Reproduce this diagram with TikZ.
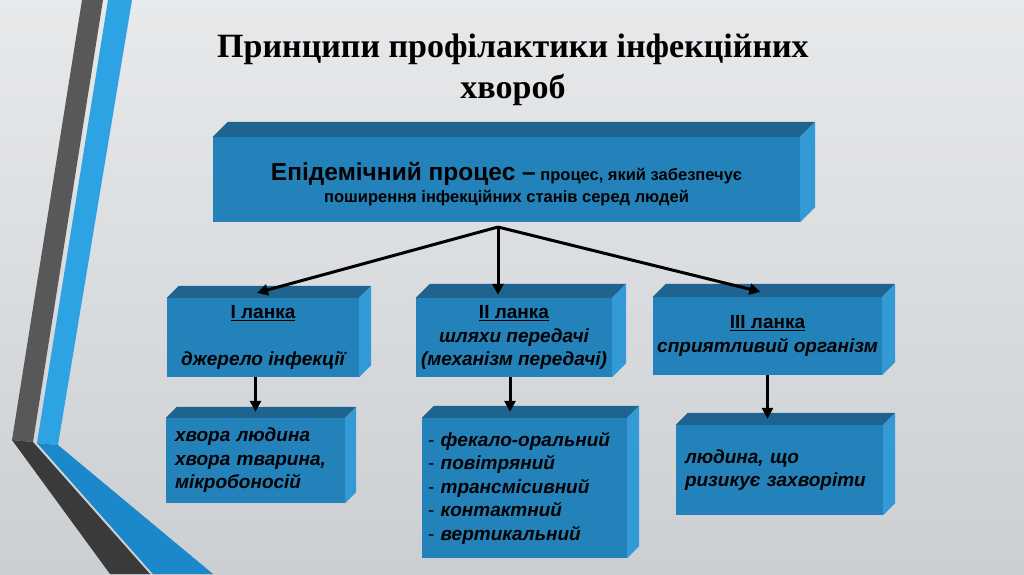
\documentclass[tikz,border=0pt]{standalone}
\usepackage{fontspec}
\setmainfont{Liberation Sans}
\newfontfamily\titlefont{Liberation Serif}
\usetikzlibrary{positioning, calc, arrows.meta}
\definecolor{boxfront}{RGB}{36,130,186}
\definecolor{boxtop}{RGB}{30,100,142}
\definecolor{boxside}{RGB}{52,154,214}
\definecolor{bgtop}{RGB}{231,233,235}
\definecolor{bgmid}{RGB}{243,243,244}
\definecolor{bgbot}{RGB}{204,207,210}
\definecolor{bandgray}{RGB}{88,88,88}
\definecolor{bandgraydk}{RGB}{58,58,58}
\definecolor{bandblue}{RGB}{46,163,228}
\definecolor{bandbluedk}{RGB}{26,136,202}

\begin{document}
\begin{tikzpicture}[x=1pt,y=-1pt]
	 \tikzstyle{cube}=[rectangle,fill=boxfront,inner sep=0pt,text=black,font=\bfseries\itshape\fontsize{19}{23.5}\selectfont]
	 \tikzstyle{conn}=[draw,line width=3pt,black,-{Triangle[length=11pt,width=11pt]}]
	 \useasboundingbox (0,0) rectangle (1024,574);
	 \shade[top color=bgtop,middle color=bgmid,bottom color=bgbot] (0,0) rectangle (1024,574);
	 \fill[bandgray] (82,0) -- (103,0) -- (33,442) -- (12,440) -- cycle;
	 \fill[bandblue] (108,0) -- (132,0) -- (58,445) -- (37,443) -- cycle;
	 \fill[bandgraydk] (12,440) -- (33,442) -- (150,574) -- (110,574) -- cycle;
	 \fill[bandbluedk] (37,443) -- (58,445) -- (213,574) -- (153,574) -- cycle;
	 \node[font=\titlefont\bfseries\fontsize{34}{41}\selectfont,align=center] (title) at (513,69.5) {Принципи профілактики інфекційних\\хвороб};
	 \node[cube,minimum width=587pt,minimum height=85pt,align=center,font=\bfseries\fontsize{16.5}{22}\selectfont] (main) at (506.5,179.5)
	 {\rule{0pt}{27pt}{\fontsize{24.5}{22}\selectfont Епідемічний процес –} процес, який забезпечує\\поширення інфекційних станів серед людей};
	 \node[cube,minimum width=192pt,minimum height=79pt,align=center] (lnk1) at (263,337.5) {\upshape\underline{І ланка}\\[23.5pt]джерело інфекції};
	 \node[cube,minimum width=196pt,minimum height=79pt,align=center] (lnk2) at (514,337.5) {\upshape\underline{ІІ ланка}\\шляхи передачі\\(механізм передачі)};
	 \node[cube,minimum width=229pt,minimum height=78pt,align=center] (lnk3) at (767.5,336) {\upshape\underline{ІІІ ланка}\\сприятливий організм};
	 \node[cube,minimum height=85pt,inner xsep=9pt,text width=161pt,align=left] (src1) at (255.5,460.5) {хвора людина\\хвора тварина,\\мікробоносій};
	 \node[cube,minimum height=140pt,inner xsep=6pt,text width=193pt,align=left] (ways) at (524.5,488)
	 {{\normalfont -} фекало-оральний\\{\normalfont -} повітряний\\{\normalfont -} трансмісивний\\{\normalfont -} контактний\\{\normalfont -} вертикальний};
	 \node[cube,minimum height=90pt,inner xsep=9pt,text width=189pt,align=left] (risk) at (779.5,470) {людина, що\\ризикує захворіти};
	 \foreach \n/\d in {main/15,lnk1/12,lnk2/14,lnk3/13,src1/11,ways/12,risk/12}{
	 \fill[boxtop] (\n.north west) -- ++(\d,-\d) -- ($(\n.north east)+(\d,-\d)$) -- (\n.north east) -- cycle;
	 \fill[boxside] (\n.north east) -- ++(\d,-\d) -- ($(\n.south east)+(\d,-\d)$) -- (\n.south east) -- cycle;
	 }
	 \coordinate (apex) at (498,227);
	 \draw[conn] (apex) -- ([xshift=-6pt,yshift=5pt]lnk1.north);
	 \draw[conn] (apex) -- ([yshift=3pt]apex |- lnk2.north);
	 \draw[conn] (apex) -- ([xshift=-7pt,yshift=5pt]lnk3.north);
	 \draw[conn] (src1.north |- lnk1.south) -- ([yshift=6pt]src1.north);
	 \draw[conn] ([xshift=-4pt]lnk2.south) -- ([xshift=-4pt,yshift=6pt]lnk2.south |- ways.north);
	 \draw[conn] (lnk3.south) -- ([yshift=6pt]lnk3.south |- risk.north);
\end{tikzpicture}
\end{document}
